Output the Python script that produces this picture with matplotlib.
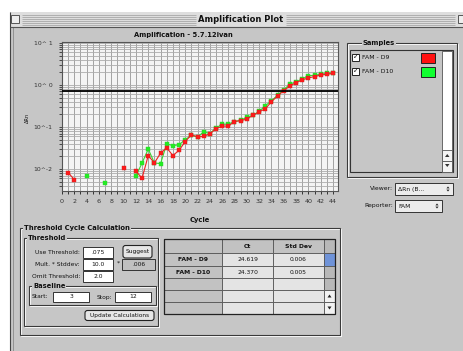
import matplotlib
matplotlib.use('Agg')
import matplotlib.pyplot as plt
import numpy as np
from matplotlib.patches import Rectangle, Polygon, FancyBboxPatch

W, H = 464, 351
nan = float('nan')

# ---------------- data ----------------
cycles = list(range(1, 45))
red_d9 = [0.0083, 0.0056, nan, nan, nan, nan, nan, nan, nan, 0.0104,
          nan, 0.0089, 0.0061, 0.021, 0.014, 0.024, 0.032, 0.021, 0.028, 0.045,
          0.066, 0.058, 0.060, 0.069, 0.091, 0.105, 0.105, 0.135, 0.142, 0.154,
          0.19, 0.23, 0.27, 0.40, 0.55, 0.73, 0.95, 1.13, 1.32, 1.47,
          1.58, 1.73, 1.79, 1.90]
green_d10 = [nan, nan, nan, 0.0067, nan, nan, 0.0047, nan, nan, nan,
             nan, 0.0069, 0.014, 0.030, 0.014, 0.0135, 0.040, 0.036, 0.038, 0.050,
             0.063, 0.058, 0.077, 0.070, 0.095, 0.117, 0.117, 0.135, 0.145, 0.17,
             0.19, 0.235, 0.32, 0.42, 0.57, 0.77, 1.05, 1.18, 1.40, 1.65,
             1.70, 1.80, 1.88, 1.95]
threshold = 0.72
x_tick_vals = list(range(0, 45, 2))
y_tick_vals = [10, 1, 0.1, 0.01]
y_tick_labels = ['10^ 1', '10^ 0', '10^-1', '10^-2']

sample_names = ['FAM - D9', 'FAM - D10']
sample_colors = ['#ff1010', '#10ff30']
ct_values = ['24.619', '24.370']
std_values = ['0.006', '0.005']

BG = '#c6c6c6'
FS = 4.6

fig = plt.figure(figsize=(W / 100, H / 100), dpi=100)
fig.patch.set_facecolor('white')
ui = fig.add_axes([0, 0, 1, 1])
ui.set_xlim(0, W)
ui.set_ylim(H, 0)
ui.axis('off')
ui.set_zorder(0)


def rect(x0, y0, x1, y1, fc, ec='none', lw=0.7, z=1):
    ui.add_patch(Rectangle((x0, y0), x1 - x0, y1 - y0, facecolor=fc,
                           edgecolor=ec, linewidth=lw, zorder=z))


def line(xs, ys, c='#333333', lw=0.7, z=2):
    ui.plot(xs, ys, color=c, lw=lw, zorder=z, solid_capstyle='butt')


def txt(x, y, s, size=FS, bold=False, ha='left', z=5, **kw):
    ui.text(x, y, s, fontsize=size, fontweight='bold' if bold else 'normal',
            ha=ha, va='center', zorder=z, color='#111111', **kw)


def group(x0, y0, x1, y1, title, tx):
    rect(x0 + 1, y0 + 1, x1 + 1, y1 + 1, 'none', ec='white', lw=0.7, z=2)
    rect(x0, y0, x1, y1, 'none', ec='#3a3a3a', lw=0.8, z=2)
    ui.text(tx, y0, title, fontsize=FS + 0.3, fontweight='bold', ha='left',
            va='center', zorder=4, color='#111111',
            bbox=dict(fc=BG, ec='none', pad=0.6))


def field(x0, y0, x1, y1, s, fc='white', ha='center'):
    rect(x0, y0, x1, y1, fc, ec='#333333', lw=0.7, z=3)
    xx = (x0 + x1) / 2 if ha == 'center' else x0 + 3
    txt(xx, (y0 + y1) / 2, s, ha=ha, size=FS - 0.3)


def button(x0, y0, x1, y1, s):
    ui.add_patch(FancyBboxPatch((x0, y0), x1 - x0, y1 - y0,
                                boxstyle='round,pad=0,rounding_size=2.5',
                                fc='#e6e6e6', ec='#222222', lw=0.8, zorder=3))
    txt((x0 + x1) / 2, (y0 + y1) / 2, s, ha='center', size=FS - 0.4)


def updown(cx, cy, s=1.6, c='#222222'):
    ui.add_patch(Polygon([[cx - s, cy - 0.6], [cx + s, cy - 0.6], [cx, cy - 0.6 - s * 1.2]],
                         closed=True, fc=c, ec='none', zorder=6))
    ui.add_patch(Polygon([[cx - s, cy + 0.6], [cx + s, cy + 0.6], [cx, cy + 0.6 + s * 1.2]],
                         closed=True, fc=c, ec='none', zorder=6))


# ---------------- window chrome ----------------
rect(10, 12, W, H, BG, z=0)
rect(10, 12, W, 27, '#dedede', z=1)
for yy in np.arange(14.5, 26, 2):
    line([22, 196], [yy, yy], c='#a8a8a8', lw=0.6)
    line([286, 455], [yy, yy], c='#a8a8a8', lw=0.6)
txt(241, 19.5, 'Amplification Plot', size=6, bold=True, ha='center')
rect(11.5, 14.5, 19.5, 23, '#eeeeee', ec='#555555', lw=0.7, z=3)
rect(458, 14.5, 466, 23, '#eeeeee', ec='#555555', lw=0.7, z=3)
line([10.5, 10.5], [12, H], c='#444444', lw=0.8)
line([13.5, 13.5], [27, H], c='#8a8a8a', lw=0.6)
line([10, W], [27.2, 27.2], c='#555555', lw=0.8)

# ---------------- plot ----------------
L, R, T, B = 62, 338, 42, 191
ax = fig.add_axes([L / W, 1 - B / H, (R - L) / W, (B - T) / H])
ax.set_zorder(2)
ax.set_facecolor('#f4f4f4')
ax.set_yscale('log')
ax.set_ylim(10 ** -2.52, 10 ** 1.02)
ax.set_xlim(0, 44.8)
ax.set_xticks(x_tick_vals)
ax.set_xticks(cycles, minor=True)
ax.set_yticks(y_tick_vals)
ax.set_yticklabels(y_tick_labels)
ax.grid(which='both', axis='x', color='#a2a2a2', lw=0.7)
ax.grid(which='both', axis='y', color='#acacac', lw=0.6)
ax.set_axisbelow(True)
ax.tick_params(axis='x', which='both', direction='out', length=2.5, width=0.7,
               labelsize=FS, pad=3, colors='#333333')
ax.tick_params(axis='y', which='both', direction='out', length=2, width=0.6,
               labelsize=FS - 0.2, pad=5, colors='#333333')
for sp in ax.spines.values():
    sp.set_color('#555555')
    sp.set_linewidth(0.8)

ax.plot(cycles, green_d10, color='#33dd33', lw=0.8, marker='s', ms=2.9,
        mfc='#22ee22', mec='#33cc33', mew=0.3, zorder=3)
ax.plot(cycles, red_d9, color='#ee2222', lw=0.8, marker='s', ms=2.9,
        mfc='#ff1a1a', mec='#cc2222', mew=0.3, zorder=4)
ax.axhline(threshold, color='black', lw=1.3, zorder=5)

txt(183, 35, 'Amplification - 5.7.12ivan', size=FS + 0.3, bold=True, ha='center')
txt(200, 220, 'Cycle', size=FS + 0.3, bold=True, ha='center')
ui.text(27, 118, 'ΔRn', fontsize=3.6, rotation=90, ha='center', va='center',
        color='#111111', zorder=5)

# ---------------- samples panel ----------------
group(347, 43, 457, 177, 'Samples', 363)
rect(350, 50, 453, 172, BG, ec='#333333', lw=0.8, z=2)
rect(442, 50.5, 452.5, 171.5, 'white', ec='#555555', lw=0.6, z=3)
rect(442, 150, 452.5, 160.5, '#f4f4f4', ec='#555555', lw=0.6, z=3)
rect(442, 160.5, 452.5, 171.5, '#f4f4f4', ec='#555555', lw=0.6, z=3)
ui.add_patch(Polygon([[445, 157], [449.5, 157], [447.25, 154]], fc='#333333', zorder=6))
ui.add_patch(Polygon([[445, 164], [449.5, 164], [447.25, 167]], fc='#333333', zorder=6))
for i, (nm, col) in enumerate(zip(sample_names, sample_colors)):
    yc = 57.5 + i * 14
    rect(352, yc - 3.5, 359, yc + 3.5, 'white', ec='#222222', lw=0.7, z=3)
    txt(355.5, yc, '✓', size=5, ha='center', z=6)
    txt(362, yc, nm, size=FS - 0.2)
    rect(421, yc - 5, 435, yc + 5, col, ec='#222222', lw=0.7, z=3)

txt(393, 189, 'Viewer:', ha='right', size=FS - 0.2)
field(395, 183, 453, 195, 'ΔRn (B...', fc='#ececec', ha='left')
updown(448, 189)
txt(393, 206, 'Reporter:', ha='right', size=FS - 0.2)
field(395, 200, 442, 212, 'FAM', fc='#ececec', ha='left')
updown(437, 206)

# ---------------- threshold cycle calculation ----------------
group(20, 228, 340, 335, 'Threshold Cycle Calculation', 24)
group(24, 238, 158, 326, 'Threshold', 28)
txt(80, 252, 'Use Threshold:', ha='right', size=FS - 0.3)
field(83, 246.5, 113, 257.5, '.075')
button(123, 245.5, 152, 258, 'Suggest')
txt(80, 264, 'Mult. * Stddev:', ha='right', size=FS - 0.3)
field(83, 258.5, 113, 269.5, '10.0')
txt(118, 263.5, '*', ha='center', size=FS)
field(122, 258.5, 155, 269.5, '.006', fc='#c0c0c0')
txt(80, 276, 'Omit Threshold:', ha='right', size=FS - 0.3)
field(83, 270.5, 113, 281.5, '2.0')
group(29, 286, 156, 305, 'Baseline', 33)
txt(32, 297, 'Start:', size=FS - 0.3)
field(53, 292, 89, 302, '3')
txt(112, 297, 'Stop:', ha='right', size=FS - 0.3)
field(115, 292, 151, 302, '12')
button(85, 310.5, 154, 320.5, 'Update Calculations')

# ---------------- results table ----------------
col_x = [164, 222, 273, 324, 335]
row_y = [239, 253, 266, 278, 290, 302, 314]
for r in range(len(row_y) - 1):
    for c in range(len(col_x) - 1):
        if c == 3:
            fc = '#6f93d8' if r == 1 else '#b8b8b8'
            if r >= 4:
                fc = '#f2f2f2'
        elif r == 0 or c == 0:
            fc = '#c2c2c2'
        else:
            fc = '#e4e4e4'
        rect(col_x[c], row_y[r], col_x[c + 1], row_y[r + 1], fc,
             ec='#555555', lw=0.6, z=3)
rect(col_x[0], row_y[0], col_x[-1], row_y[-1], 'none', ec='#222222', lw=0.9, z=4)
ui.add_patch(Polygon([[327.5, 297.5], [331.5, 297.5], [329.5, 294.5]], fc='#222222', zorder=6))
ui.add_patch(Polygon([[327.5, 306.5], [331.5, 306.5], [329.5, 309.5]], fc='#222222', zorder=6))
hy = (row_y[0] + row_y[1]) / 2
txt((col_x[1] + col_x[2]) / 2, hy, 'Ct', bold=True, ha='center', size=FS - 0.2)
txt((col_x[2] + col_x[3]) / 2, hy, 'Std Dev', bold=True, ha='center', size=FS - 0.2)
for i, (nm, ct, sd) in enumerate(zip(sample_names, ct_values, std_values)):
    yc = (row_y[i + 1] + row_y[i + 2]) / 2
    txt((col_x[0] + col_x[1]) / 2, yc, nm, bold=True, ha='center', size=FS - 0.2)
    txt((col_x[1] + col_x[2]) / 2, yc, ct, ha='center', size=FS - 0.3)
    txt((col_x[2] + col_x[3]) / 2, yc, sd, ha='center', size=FS - 0.3)

fig.savefig('out.png', dpi=100, facecolor=fig.get_facecolor())
